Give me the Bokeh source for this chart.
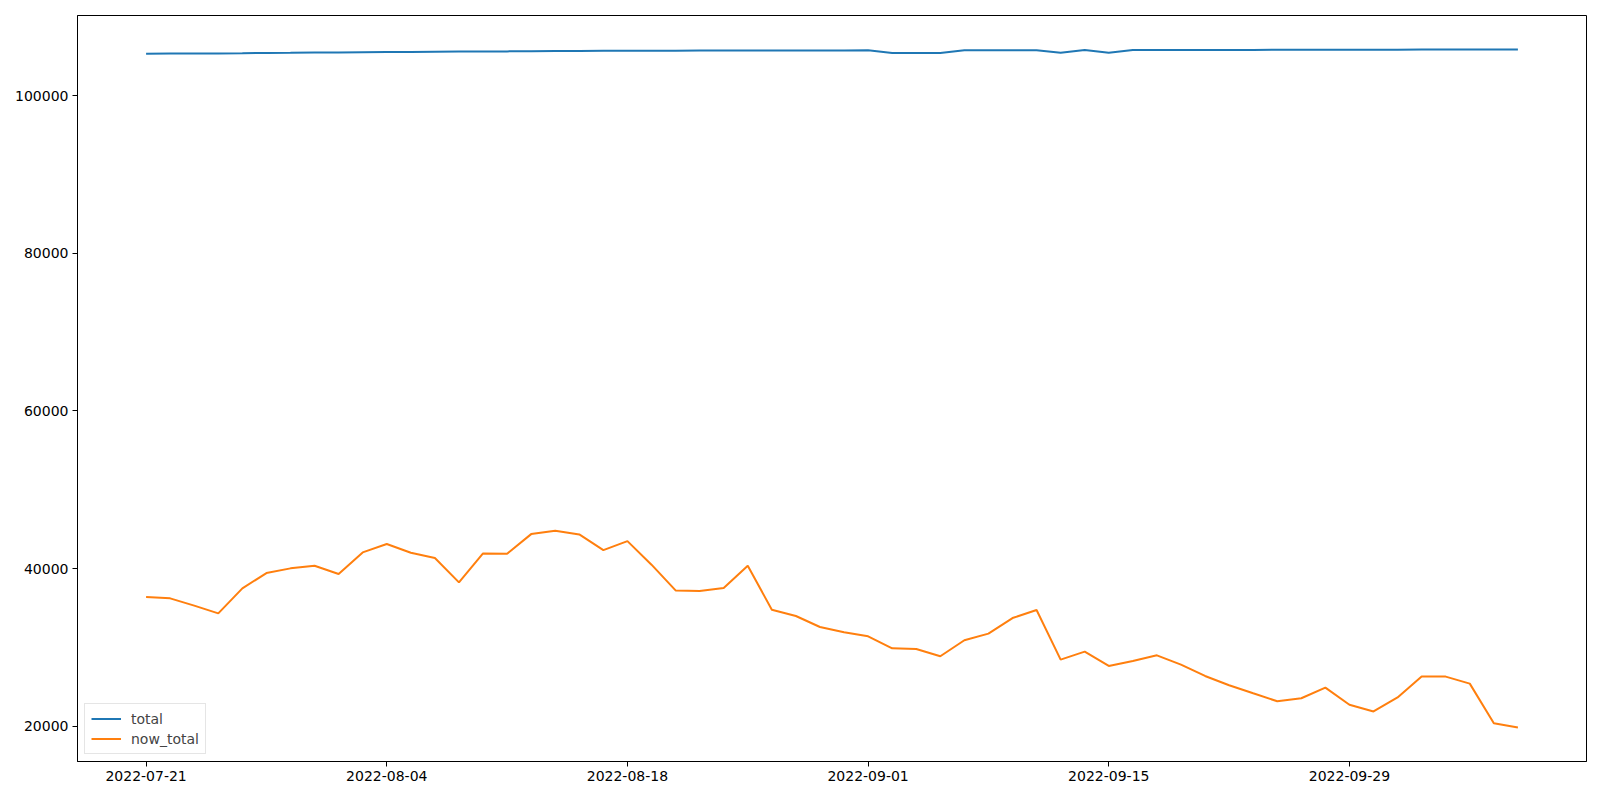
from bokeh.plotting import figure
from bokeh.models import FixedTicker, BasicTickFormatter, Range1d, Legend, LegendItem
from bokeh.embed import file_html
from bokeh.resources import INLINE

# Trading-day index positions and tick labels (every 10th trading day)
tick_positions = [0, 10, 20, 30, 40, 50]
tick_labels = ["2022-07-21", "2022-08-04", "2022-08-18", "2022-09-01", "2022-09-15", "2022-09-29"]

total = [105330, 105340, 105350, 105360, 105380, 105420, 105440, 105470, 105490, 105510,
         105530, 105550, 105570, 105590, 105600, 105620, 105640, 105660, 105680, 105690,
         105700, 105710, 105715, 105720, 105725, 105730, 105735, 105740, 105740, 105745,
         105750, 105420, 105420, 105420, 105760, 105765, 105770, 105775, 105450, 105800,
         105450, 105800, 105800, 105805, 105805, 105810, 105810, 105815, 105820, 105825,
         105830, 105835, 105840, 105845, 105850, 105855, 105860, 105870]

now_total = [36384, 36220, 35290, 34318, 37488, 39430, 40024, 40360, 39300, 42050,
             43110, 42010, 41330, 38250, 41920, 41880, 44370, 44800, 44330, 42340,
             43480, 40490, 37230, 37150, 37530, 40360, 34780, 33980, 32580, 31910,
             31400, 29880, 29800, 28870, 30900, 31740, 33720, 34740, 28450, 29460,
             27640, 28270, 28990, 27810, 26370, 25190, 24170, 23160, 23540, 24890,
             22720, 21870, 23650, 26290, 26290, 25400, 20370, 19820]

x = list(range(len(total)))

n = len(x)
xpad = 0.05 * (n - 1)
ymin = min(min(total), min(now_total))
ymax = max(max(total), max(now_total))
ypad = 0.05 * (ymax - ymin)

p = figure(width=1600, height=792, output_backend="svg", toolbar_location=None,
           x_range=Range1d(-xpad, n - 1 + xpad), y_range=Range1d(ymin - ypad, ymax + ypad),
           min_border_left=77, min_border_top=15, min_border_right=14, min_border_bottom=31)

r1 = p.line(x, total, line_color="#1f77b4", line_width=2)
r2 = p.line(x, now_total, line_color="#ff7f0e", line_width=2)

p.xgrid.visible = False
p.ygrid.visible = False
p.outline_line_color = "black"
p.outline_line_width = 1
p.background_fill_color = "white"
p.border_fill_color = "white"

p.xaxis.ticker = FixedTicker(ticks=tick_positions)
p.xaxis.major_label_overrides = {pos: lab for pos, lab in zip(tick_positions, tick_labels)}
p.yaxis.ticker = FixedTicker(ticks=[20000, 40000, 60000, 80000, 100000])
p.yaxis.formatter = BasicTickFormatter(use_scientific=False)

for ax in (p.xaxis, p.yaxis):
    ax.axis_line_color = "black"
    ax.axis_line_width = 1
    ax.major_tick_line_color = "black"
    ax.major_tick_out = 5
    ax.major_tick_in = 0
    ax.minor_tick_line_color = None
    ax.major_label_text_font = "DejaVu Sans"
    ax.major_label_text_font_size = "14px"
    ax.major_label_text_color = "black"
    ax.major_label_standoff = 4

legend = Legend(items=[LegendItem(label="total", renderers=[r1]),
                       LegendItem(label="now_total", renderers=[r2])],
                location=(7, 7))
legend.label_text_font = "DejaVu Sans"
legend.label_text_font_size = "14px"
legend.glyph_width = 30
legend.glyph_height = 17
legend.label_height = 17
legend.spacing = 3
legend.padding = 6
legend.margin = 0
legend.label_standoff = 10
legend.border_line_color = "#cccccc"
legend.border_line_width = 1
legend.background_fill_alpha = 0.8
p.add_layout(legend, "center")

open("out.html", "w").write(file_html(p, INLINE))
